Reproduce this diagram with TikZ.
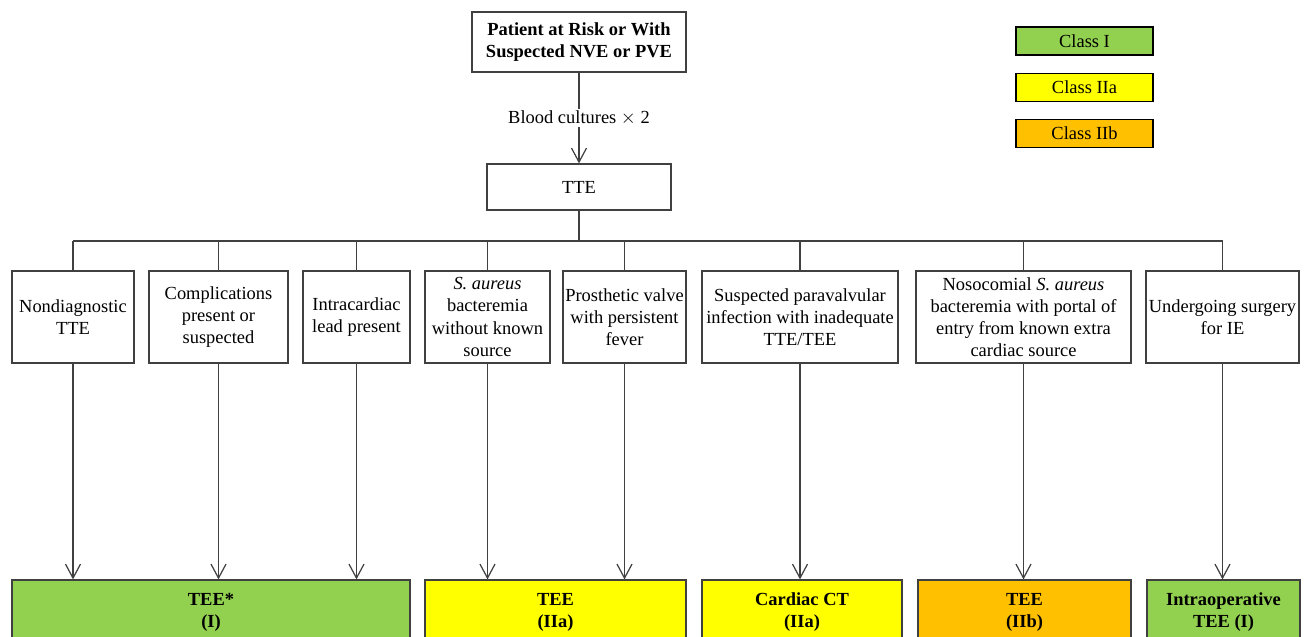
\documentclass[tikz,border=0pt]{standalone}
\usepackage{fontspec}
\setmainfont{Liberation Serif}
\usetikzlibrary{arrows.meta}
\definecolor{clsI}{HTML}{92D050}
\definecolor{clsIIa}{HTML}{FFFF00}
\definecolor{clsIIb}{HTML}{FFC000}
\definecolor{ln}{HTML}{404040}

\begin{document}
\begin{tikzpicture}[x=0.02cm,y=-0.02cm,
  font=\fontsize{10.5}{12.6}\selectfont,
  box/.style={draw=ln,line width=0.7pt,fill=white,align=center,inner sep=0},
  res/.style={box,font=\fontsize{10.5}{12.6}\selectfont\bfseries,minimum height=1.28cm},
  legend/.style={box,draw=black,minimum width=2.74cm,minimum height=0.56cm},
  arr/.style={draw=ln,line width=0.7pt,-{Straight Barb[length=2.8mm,width=3mm]}}]
\useasboundingbox (0,0) rectangle (1311,636);
\clip (0,0) rectangle (1311,636);
% top of the chart
\node[box,font=\fontsize{10.5}{12.6}\selectfont\bfseries,minimum width=4.28cm,minimum height=1.2cm] (pat) at (579,42) {Patient at Risk or With\\Suspected NVE or PVE};
\node[box,minimum width=3.68cm,minimum height=0.92cm] (tte) at (579,187) {TTE};
\draw[arr] (pat) -- node[fill=white,inner sep=1pt] {Blood cultures $\times$ 2} (tte);
\coordinate (bus) at (579,241);
\draw[ln,line width=0.7pt] (tte.south) -- (bus);
% indications
\foreach \n/\x/\w/\t in {
  1/73/2.44/{Nondiagnostic\\TTE},
  2/218.5/2.78/{Complications\\present or\\suspected},
  3/356.5/2.14/{Intracardiac\\lead present},
  4/487.5/2.5/{\textit{S. aureus}\\bacteremia\\without known\\source},
  5/624.5/2.46/{Prosthetic valve\\with persistent\\fever},
  6/800/3.92/{Suspected paravalvular\\infection with inadequate\\TTE/TEE},
  7/1023.5/4.3/{Nosocomial \textit{S. aureus}\\bacteremia with portal of\\entry from known extra\\cardiac source},
  8/1222.5/3.06/{Undergoing surgery\\for IE}} {
  \node[box,minimum width=\w cm,minimum height=1.84cm] (c\n) at (\x,317) {\t};
  \draw[ln,line width=0.7pt] (c\n.north) -- (c\n.north |- bus);
}
\draw[ln,line width=0.7pt] (c1.north |- bus) -- (c8.north |- bus);
% recommendations
\node[res,fill=clsI,minimum width=7.96cm] (rA) at (211,612) {TEE*\\(I)};
\node[res,fill=clsIIa,minimum width=5.22cm] (rB) at (555.5,612) {TEE\\(IIa)};
\node[res,fill=clsIIa,minimum width=4cm] (rC) at (802,612) {Cardiac CT\\(IIa)};
\node[res,fill=clsIIb,minimum width=4.26cm] (rD) at (1024.5,612) {TEE\\(IIb)};
\node[res,fill=clsI,minimum width=3.06cm] (rE) at (1223.5,612) {Intraoperative\\TEE (I)};
\foreach \i/\j in {1/A,2/A,3/A,4/B,5/B,6/C,7/D,8/E}
  \draw[arr] (c\i.south) -- (c\i.south |- r\j.north);
% legend
\node[legend,fill=clsI] (kI) at (1084.5,41) {Class I};
\node[legend,fill=clsIIa] (kIIa) at (1084.5,87.5) {Class IIa};
\node[legend,fill=clsIIb] (kIIb) at (1084.5,133.5) {Class IIb};
\end{tikzpicture}
\end{document}
